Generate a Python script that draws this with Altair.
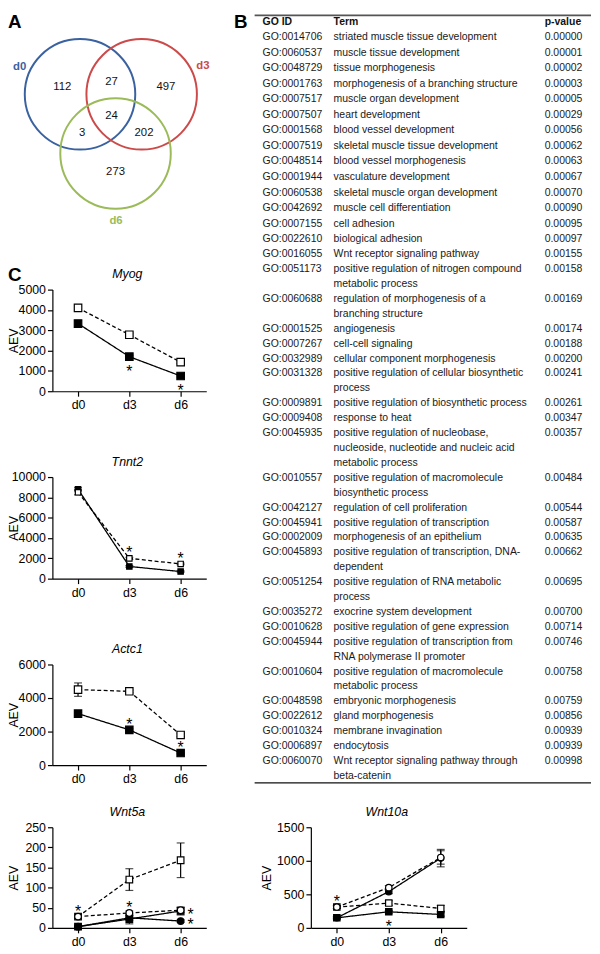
import altair as alt
import pandas as pd

W, H = 592, 946
FONT = "Liberation Sans"
TFONT = "Liberation Sans"

# ---------------- data ----------------
days = ["d0", "d3", "d6"]

venn_sets = ["d0", "d3", "d6"]
venn_colors = ["#3a62a0", "#cc4a4a", "#9bbb59"]
venn_regions = ["d0 only", "d0 & d3", "d3 only", "d0 & d3 & d6", "d0 & d6", "d3 & d6", "d6 only"]
venn_counts = [112, 27, 497, 24, 3, 202, 273]

go_ids = ["GO:0014706", "GO:0060537", "GO:0048729", "GO:0001763", "GO:0007517", "GO:0007507",
          "GO:0001568", "GO:0007519", "GO:0048514", "GO:0001944", "GO:0060538", "GO:0042692",
          "GO:0007155", "GO:0022610", "GO:0016055", "GO:0051173", "GO:0060688", "GO:0001525",
          "GO:0007267", "GO:0032989", "GO:0031328", "GO:0009891", "GO:0009408", "GO:0045935",
          "GO:0010557", "GO:0042127", "GO:0045941", "GO:0002009", "GO:0045893", "GO:0051254",
          "GO:0035272", "GO:0010628", "GO:0045944", "GO:0010604", "GO:0048598", "GO:0022612",
          "GO:0010324", "GO:0006897", "GO:0060070"]
go_terms = ["striated muscle tissue development", "muscle tissue development", "tissue morphogenesis",
            "morphogenesis of a branching structure", "muscle organ development", "heart development",
            "blood vessel development", "skeletal muscle tissue development", "blood vessel morphogenesis",
            "vasculature development", "skeletal muscle organ development", "muscle cell differentiation",
            "cell adhesion", "biological adhesion", "Wnt receptor signaling pathway",
            "positive regulation of nitrogen compound\nmetabolic process",
            "regulation of morphogenesis of a\nbranching structure",
            "angiogenesis", "cell-cell signaling", "cellular component morphogenesis",
            "positive regulation of cellular biosynthetic\nprocess",
            "positive regulation of biosynthetic process", "response to heat",
            "positive regulation of nucleobase,\nnucleoside, nucleotide and nucleic acid\nmetabolic process",
            "positive regulation of macromolecule\nbiosynthetic process",
            "regulation of cell proliferation", "positive regulation of transcription",
            "morphogenesis of an epithelium", "positive regulation of transcription, DNA-\ndependent",
            "positive regulation of RNA metabolic\nprocess", "exocrine system development",
            "positive regulation of gene expression",
            "positive regulation of transcription from\nRNA polymerase II promoter",
            "positive regulation of macromolecule\nmetabolic process", "embryonic morphogenesis",
            "gland morphogenesis", "membrane invagination", "endocytosis",
            "Wnt receptor signaling pathway through\nbeta-catenin"]
go_pvalues = ["0.00000", "0.00001", "0.00002", "0.00003", "0.00005", "0.00029", "0.00056", "0.00062",
              "0.00063", "0.00067", "0.00070", "0.00090", "0.00095", "0.00097", "0.00155", "0.00158",
              "0.00169", "0.00174", "0.00188", "0.00200", "0.00241", "0.00261", "0.00347", "0.00357",
              "0.00484", "0.00544", "0.00587", "0.00635", "0.00662", "0.00695", "0.00700", "0.00714",
              "0.00746", "0.00758", "0.00759", "0.00856", "0.00939", "0.00939", "0.00998"]
table_headers = ["GO ID", "Term", "p-value"]

genes = ["Myog", "Tnnt2", "Actc1", "Wnt5a", "Wnt10a"]

myog_values = {"filled square": [3330, 1700, 750], "open square": [4100, 2780, 1430]}
myog_errors = {"filled square": [140, 60, 50], "open square": [80, 70, 60]}
myog_stars = [("d3", "filled square", "below"), ("d6", "filled square", "below")]

tnnt2_values = {"filled square": [8800, 1200, 700], "open square": [8500, 2000, 1450]}
tnnt2_errors = {"filled square": [150, 80, 60], "open square": [250, 100, 80]}
tnnt2_stars = [("d3", "open square", "above"), ("d6", "open square", "above")]

actc1_values = {"filled square": [3070, 2100, 720], "open square": [4500, 4400, 1800]}
actc1_errors = {"filled square": [80, 60, 50], "open square": [400, 80, 100]}
actc1_stars = [("d3", "filled square", "above"), ("d6", "filled square", "above")]

wnt5a_values = {"filled square": [3, 22, 42], "open square": [28, 120, 168],
                "filled circle": [3, 25, 17], "open circle": [28, 37, 44]}
wnt5a_errors = {"filled square": [1, 12, 10], "open square": [3, 27, 43],
                "filled circle": [1, 6, 3], "open circle": [3, 5, 6]}
wnt5a_stars = [("d0", "open square", "above"), ("d3", "open circle", "above"),
               ("d6", "filled square", "right"), ("d6", "filled circle", "right")]

wnt10a_values = {"filled square": [150, 240, 200], "open square": [310, 370, 290],
                 "filled circle": [150, 540, 1040], "open circle": [310, 600, 1050]}
wnt10a_errors = {"filled square": [15, 20, 25], "open square": [20, 35, 45],
                 "filled circle": [15, 30, 130], "open circle": [20, 30, 100]}
wnt10a_stars = [("d0", "open square", "above"), ("d3", "filled square", "below")]

# ---------------- layout (pixels, chart coordinates) ----------------
VC = (104.25, 81.0)   # venn centre
VR = 56.0             # venn radius (px per unit)
venn_circle_pos = [(-0.558, 0.0), (0.558, 0.0), (0.085, -1.07)]
venn_label_pos = [(-1.65, 0.5), (1.665, 0.52), (0.094, -2.29)]
venn_region_pos = [(-0.88, 0.14), (0.013, 0.23), (0.996, 0.14), (0.013, -0.39),
                   (-0.52, -0.70), (0.60, -0.70), (0.085, -1.41)]

layouts = {
    "Myog":   dict(x0=45, x1=201, y0=382, y1=279, ymax=5000, step=1000, aev=6, msize=58),
    "Tnnt2":  dict(x0=45, x1=201, y0=572, y1=469, ymax=10000, step=2000, aev=6, msize=30),
    "Actc1":  dict(x0=45, x1=201, y0=761, y1=659, ymax=6000, step=2000, aev=6, msize=56),
    "Wnt5a":  dict(x0=45, x1=201, y0=926, y1=824, ymax=250, step=50, aev=6, msize=45),
    "Wnt10a": dict(x0=307, x1=465, y0=926, y1=824, ymax=1500, step=500, aev=262, msize=42),
}

STAR_DY = {"above": 0.0, "below": 20.5, "right": 9.2}
STAR_DX = {"above": 0.0, "below": 0.0, "right": 10.0}


def gene_panel(gene, values, errors, stars, lay):
    rows = []
    for s, vals in values.items():
        for d, v, e in zip(days, vals, errors[s]):
            rows.append(dict(day=d, series=s, value=v, lo=v - e, hi=v + e,
                             shape="square" if "square" in s else "circle",
                             fill="filled" if s.startswith("filled") else "open",
                             dash="solid" if s.startswith("filled") else "dashed"))
    df = pd.DataFrame(rows)
    caps = pd.concat([df.assign(cap=df["lo"]), df.assign(cap=df["hi"])])

    def xs():
        return alt.Scale(type="point", domain=days, range=[lay["x0"], lay["x1"]], padding=0.5)

    def ys():
        return alt.Scale(domain=[0, lay["ymax"]], range=[lay["y0"], lay["y1"]], nice=False, zero=False)

    xax = alt.Axis(orient="bottom", offset=lay["y0"] - H, title=None, labelAngle=0,
                   labelPadding=3, grid=False)
    yax = alt.Axis(orient="left", offset=-lay["x0"], values=list(range(0, lay["ymax"] + 1, lay["step"])),
                   format="d", grid=False, title="AEV", titleAngle=270, titleAlign="center",
                   titleBaseline="middle", titleX=lay["aev"] - lay["x0"],
                   titleY=(lay["y0"] + lay["y1"]) / 2, labelPadding=2)

    base = alt.Chart(df)
    units = []
    units.append(base.mark_line(color="black", strokeWidth=1.3).encode(
        x=alt.X("day:N", scale=xs(), axis=None),
        y=alt.Y("value:Q", scale=ys(), axis=None),
        detail="series:N",
        strokeDash=alt.StrokeDash("dash:N", scale=alt.Scale(domain=["solid", "dashed"],
                                                            range=[[1, 0], [4, 2.5]]), legend=None),
    ))
    units.append(base.mark_rule(color="black", strokeWidth=1.2).encode(
        x=alt.X("day:N", scale=xs(), axis=None),
        y=alt.Y("lo:Q", scale=ys(), axis=None), y2="hi:Q"))
    units.append(alt.Chart(caps).mark_tick(color="black", thickness=1.2, size=8, orient="horizontal").encode(
        x=alt.X("day:N", scale=xs(), axis=None),
        y=alt.Y("cap:Q", scale=ys(), axis=None)))
    units.append(base.mark_point(filled=True, opacity=1, strokeWidth=1.2, stroke="black").encode(
        x=alt.X("day:N", scale=xs(), axis=xax),
        y=alt.Y("value:Q", scale=ys(), axis=yax),
        shape=alt.Shape("shape:N", scale=alt.Scale(domain=["square", "circle"], range=["square", "circle"]),
                        legend=None),
        fill=alt.Fill("fill:N", scale=alt.Scale(domain=["filled", "open"], range=["black", "white"]),
                      legend=None),
        size=alt.value(lay["msize"]),
    ))

    srows = []
    for d, s, place in stars:
        v = values[s][days.index(d)]
        srows.append(dict(day=d, value=v, place=place))
    sdf = pd.DataFrame(srows)
    for place in ["above", "below", "right"]:
        sub = sdf[sdf["place"] == place]
        if len(sub) == 0:
            continue
        units.append(alt.Chart(sub).mark_text(text="*", font=FONT, fontSize=16, align="center",
                                              baseline="alphabetic", color="black", fill="black",
                                              dy=STAR_DY[place], dx=STAR_DX[place]).encode(
            x=alt.X("day:N", scale=xs(), axis=None),
            y=alt.Y("value:Q", scale=ys(), axis=None)))

    units.append(alt.Chart(pd.DataFrame({"gene": [gene]})).mark_text(
        font=FONT, fontSize=12.5, fontStyle="italic", color="black", align="center", baseline="middle"
    ).encode(text="gene:N", x=alt.value((lay["x0"] + lay["x1"]) / 2 - 2), y=alt.value(lay["y1"] - 15.5)))
    return units


# ---------------- Venn ----------------
def vx():
    return alt.Scale(domain=[-1, 1], range=[VC[0] - VR, VC[0] + VR], nice=False, zero=False)


def vy():
    return alt.Scale(domain=[-1, 1], range=[VC[1] + VR, VC[1] - VR], nice=False, zero=False)


set_scale = alt.Scale(domain=venn_sets, range=venn_colors)

circ_df = pd.DataFrame({"set": venn_sets, "cx": [p[0] for p in venn_circle_pos],
                        "cy": [p[1] for p in venn_circle_pos]})
lab_df = pd.DataFrame({"set": venn_sets, "cx": [p[0] for p in venn_label_pos],
                       "cy": [p[1] for p in venn_label_pos]})
reg_df = pd.DataFrame({"region": venn_regions, "count": venn_counts,
                       "cx": [p[0] for p in venn_region_pos], "cy": [p[1] for p in venn_region_pos]})

venn_units = [
    alt.Chart(circ_df).mark_point(shape="circle", filled=False, opacity=1, strokeWidth=2,
                                  size=(2 * VR) ** 2).encode(
        x=alt.X("cx:Q", scale=vx(), axis=None), y=alt.Y("cy:Q", scale=vy(), axis=None),
        stroke=alt.Stroke("set:N", scale=set_scale, legend=None)),
    alt.Chart(lab_df).mark_text(font=FONT, fontSize=11.5, fontWeight="bold", baseline="middle").encode(
        x=alt.X("cx:Q", scale=vx(), axis=None), y=alt.Y("cy:Q", scale=vy(), axis=None), text="set:N",
        color=alt.Color("set:N", scale=set_scale, legend=None)),
    alt.Chart(reg_df).mark_text(font=TFONT, fontSize=11.5, color="#111", baseline="middle").encode(
        x=alt.X("cx:Q", scale=vx(), axis=None), y=alt.Y("cy:Q", scale=vy(), axis=None), text="count:Q"),
]

# ---------------- table ----------------
trows = []
line = 0
for gid, term, p in zip(go_ids, go_terms, go_pvalues):
    parts = term.split("\n")
    for k, part in enumerate(parts):
        trows.append(dict(line=line + k, gid=gid if k == 0 else "", term=part, p=p if k == 0 else ""))
    line += len(parts)
tdf = pd.DataFrame(trows)
hdf = pd.DataFrame({"line": [-1], "gid": [table_headers[0]], "term": [table_headers[1]],
                    "p": [table_headers[2]]})


def ty():
    return alt.Scale(domain=[-1, 0, 13, 49], range=[8, 23, 228, 772], nice=False, zero=False)


COLX = {"gid": 258, "term": 330, "p": 544}

table_units = []
for col, cx in COLX.items():
    table_units.append(alt.Chart(tdf).mark_text(font=TFONT, fontSize=10.6, color="#1a1a1a", align="left",
                                                baseline="middle").encode(
        x=alt.value(cx), y=alt.Y("line:Q", scale=ty(), axis=None), text=f"{col}:N"))
    table_units.append(alt.Chart(hdf).mark_text(font=TFONT, fontSize=10.6, fontWeight="bold", color="#111",
                                                align="left", baseline="middle").encode(
        x=alt.value(cx), y=alt.Y("line:Q", scale=ty(), axis=None), text=f"{col}:N"))
one = pd.DataFrame({"a": [0]})
table_units.append(alt.Chart(one).mark_rule(color="#555", strokeWidth=2).encode(
    x=alt.value(250), x2=alt.value(591), y=alt.value(1)))
table_units.append(alt.Chart(one).mark_rule(color="#111", strokeWidth=1.4).encode(
    x=alt.value(250), x2=alt.value(591), y=alt.value(779)))

# ---------------- panel letters ----------------
letter_units = [
    alt.Chart(pd.DataFrame({"t": [t]})).mark_text(font=FONT, fontSize=19, fontWeight="bold", color="black",
                                                  align="left", baseline="alphabetic").encode(
        text="t:N", x=alt.value(px), y=alt.value(py))
    for t, px, py in [("A", 0, 14), ("B", 229, 14), ("C", 0, 270)]
]

panel_units = []
panel_units += gene_panel("Myog", myog_values, myog_errors, myog_stars, layouts["Myog"])
panel_units += gene_panel("Tnnt2", tnnt2_values, tnnt2_errors, tnnt2_stars, layouts["Tnnt2"])
panel_units += gene_panel("Actc1", actc1_values, actc1_errors, actc1_stars, layouts["Actc1"])
panel_units += gene_panel("Wnt5a", wnt5a_values, wnt5a_errors, wnt5a_stars, layouts["Wnt5a"])
panel_units += gene_panel("Wnt10a", wnt10a_values, wnt10a_errors, wnt10a_stars, layouts["Wnt10a"])

chart = alt.layer(*venn_units, *table_units, *panel_units, *letter_units).resolve_scale(
    x="independent", y="independent"
).properties(
    width=W, height=H, autosize=alt.AutoSizeParams(type="none"), padding=0
).configure_view(stroke=None).configure_axis(
    labelFont=FONT, labelFontSize=12.5, labelColor="black", titleFont=FONT, titleFontSize=12.5,
    titleFontWeight="normal", titleColor="black", domainColor="black", domainWidth=1.2,
    tickColor="black", tickWidth=1.2, tickSize=5, grid=False
)

chart.save("out.html", embed_options={"renderer": "svg", "actions": False})
